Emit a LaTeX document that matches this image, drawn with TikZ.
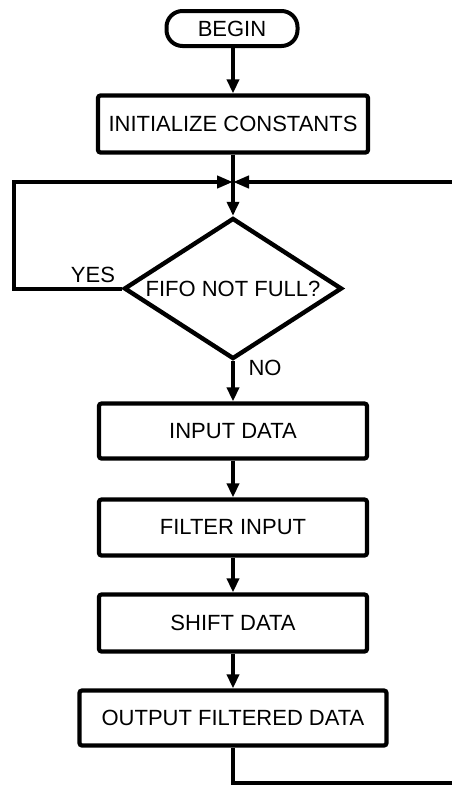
\documentclass[tikz,border=0pt]{standalone}
\usepackage{fontspec}
\setmainfont{Liberation Sans}
\usetikzlibrary{arrows.meta,shapes.geometric}
\begin{document}
\begin{tikzpicture}[x=1pt,y=-1pt,
  txt/.style={font=\fontsize{22}{26}\selectfont},
  box/.style={txt,draw,line width=4.2pt,rounded corners=2.5pt,minimum height=56pt,inner sep=0pt},
  term/.style={txt,draw,line width=4pt,rounded corners=16pt,minimum width=131pt,minimum height=35pt,inner sep=0pt},
  decision/.style={txt,diamond,aspect=1.546,draw,line width=4.4pt,minimum width=218pt,minimum height=141pt,inner sep=0pt},
  lbl/.style={txt,inner sep=0pt},
  flow/.style={line width=4pt},
  arr/.style={-{Triangle[length=14pt,width=12pt]}},
  jarr/.style={-{Triangle[length=16pt,width=12pt]}}]
\fill[white] (0,0) rectangle (452,785);
\useasboundingbox (0,0) rectangle (452,785);
\node[term] (begin) at (232,28.5) {BEGIN};
\node[box,minimum width=270pt,minimum height=57pt] (init) at (233,124) {INITIALIZE CONSTANTS};
\coordinate (j) at (233,182);
\node[decision] (fifo) at (233,288.5) {FIFO NOT FULL?};
\node[box,minimum width=268pt,minimum height=55pt] (input) at (233,431) {INPUT DATA};
\node[box,minimum width=268pt,minimum height=56pt] (filter) at (233,527.5) {FILTER INPUT};
\node[box,minimum width=268pt,minimum height=57pt] (shift) at (233,623) {SHIFT DATA};
\node[box,minimum width=307pt,minimum height=55pt] (output) at (233,718) {OUTPUT FILTERED DATA};
\node[lbl] (yes) at (93,275) {YES};
\node[lbl] (no) at (265,368) {NO};
\coordinate (lc1) at (14,288.5);
\coordinate (lc2) at (14,182);
\coordinate (re) at (456,182);
\coordinate (bc) at (233,783);
\coordinate (be) at (456,783);
\draw[flow,arr] (begin.south -| init.north) -- (init);
\draw[flow] (init) -- (j);
\draw[flow,arr] (j) -- (fifo);
\draw[flow,jarr] (fifo.west) -- (lc1) -- (lc2) -- (j);
\draw[flow,jarr] (re) -- (j);
\draw[flow,arr] (fifo) -- (input);
\draw[flow,arr] (input) -- (filter);
\draw[flow,arr] (filter) -- (shift);
\draw[flow,arr] (shift) -- (output);
\draw[flow] (output) -- (bc) -- (be);
\end{tikzpicture}
\end{document}
